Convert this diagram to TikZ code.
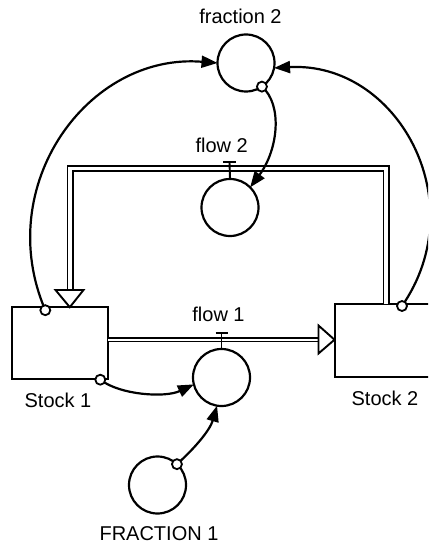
\documentclass[tikz,border=0pt]{standalone}
\usepackage{fontspec}
\setmainfont{Liberation Sans}
\usetikzlibrary{arrows.meta,calc}
\begin{document}
\begin{tikzpicture}[x=1pt,y=-1pt,
  stockbox/.style={draw,line width=2.2pt,rectangle,inner sep=0pt,outer sep=0pt,fill=white},
  aux/.style={draw,line width=2.2pt,circle,inner sep=0pt,outer sep=0pt,minimum size=57pt,fill=white},
  lbl/.style={anchor=base,inner sep=0pt,font=\fontsize{20}{24}\selectfont},
  conn/.style={line width=2.2pt,-{Triangle[length=16pt,width=12pt]}},
  tapcirc/.style={draw,line width=1.8pt,fill=white,circle,inner sep=0pt,outer sep=0pt,minimum size=10pt},
  pipetwo/.style={draw,line width=1.9pt,double=white,double distance=3.2pt,line join=miter},
  pipeone/.style={draw,line width=1.9pt,double=white,double distance=1.7pt,line join=miter},
  hollowhead/.style={draw,line width=1.9pt,fill=white,line join=miter},
  valve/.style={line width=1.9pt},
]
\useasboundingbox (0,0) rectangle (428,548);
\clip (0,0) rectangle (428,548);

% stocks
\node[stockbox,minimum width=96pt,minimum height=72pt] (stock1) at (60.3,343.2) {};
\node[stockbox,minimum width=104pt,minimum height=73pt] (stock2) at (387,340.5) {};

% flow 2 pipe (Stock 2 -> Stock 1)
\coordinate (p2a) at ($(stock2.north west)+(51,0)$);
\coordinate (p2b) at (386,168.5);
\coordinate (p2c) at (70,168.5);
\coordinate (p2d) at (70,291);
\draw[pipetwo] (p2a) -- (p2b) -- (p2c) -- (p2d);
\draw[hollowhead] (55.5,290) -- (83.5,290) -- ($(stock1.north west)+(57.5,0)$) -- cycle;

% flow 1 pipe (Stock 1 -> Stock 2)
\coordinate (p1a) at ($(stock1.east)+(0,-3.5)$);
\coordinate (p1b) at (318.5,339.7);
\draw[pipeone] (p1a) -- (p1b);
\draw[hollowhead] (318.5,325.5) -- (318.5,353.5) -- ($(stock2.west)+(-0.5,-0.8)$) -- cycle;

% converters / flow circles
\node[aux] (f2) at (246,63) {};
\node[aux] (flow2) at (230,207.5) {};
\node[aux] (flow1) at (221.5,377.5) {};
\node[aux] (F1) at (157.5,485) {};

% valves
\draw[valve] (flow2.north) -- (229.5,162);
\draw[valve] (223,162) -- (236,162);
\draw[valve] (flow1.north) -- (221.5,333);
\draw[valve] (215.5,333) -- (227.5,333);

% connectors
\coordinate (c1s) at ($(stock1.north west)+(33,3)$);
\coordinate (c2s) at ($(stock2.north west)+(67,2)$);
\coordinate (c4s) at ($(stock1.south east)+(-8,0.5)$);
\draw[conn] (c1s) .. controls (-8,186) and (87.5,52.6) .. (f2.west);
\draw[conn] (c2s) .. controls (474.6,201) and (397,61.3) .. (f2.-10);
\draw[conn] (f2.-56) .. controls (283,105) and (278,150) .. (flow2.45);
\draw[conn] (c4s) .. controls (120,395) and (165,398) .. (flow1.194);
\draw[conn] (F1.47) .. controls (195,448) and (210,430) .. (flow1.-99);

% connector origin marks
\node[tapcirc] (t1) at (c1s) {};
\node[tapcirc] (t2) at (c2s) {};
\node[tapcirc] (t3) at (f2.-56) {};
\node[tapcirc] (t4) at (c4s) {};
\node[tapcirc] (t5) at (F1.47) {};

% labels
\node[lbl] (lf2) at (240.5,24) {fraction 2};
\node[lbl] (lflow2) at (221.7,152.7) {flow 2};
\node[lbl] (lflow1) at (218.5,321.7) {flow 1};
\node[lbl] (ls1) at (58,407.5) {Stock 1};
\node[lbl] (ls2) at (385,405) {Stock 2};
\node[lbl] (lF1) at (159,540.5) {FRACTION 1};
\end{tikzpicture}
\end{document}
